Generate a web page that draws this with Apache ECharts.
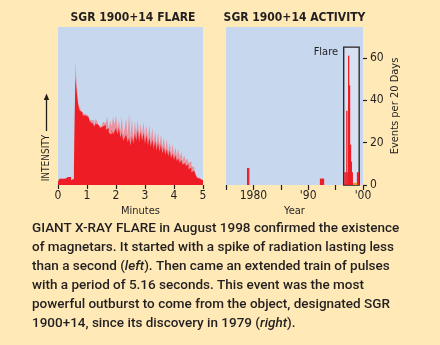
<!DOCTYPE html>
<html>
<head>
<meta charset="utf-8">
<script src="https://cdn.jsdelivr.net/npm/echarts@6/dist/echarts.min.js"></script>
<style>
  html, body { margin: 0; padding: 0; background: #fee9b7; }
  #chart { width: 440px; height: 345px; }
</style>
</head>
<body>
<div id="chart"></div>
<script>
// ---------- DATA ----------
// Left panel: flare light curve, 100 bins of 0.05 min (3 s) from 0 to 5 minutes
const flareBinMinutes = 0.05;
const flareBase = [
  2, 4, 4, 3, 4, 3, 5, 4, 5, 3, 4, 12,
  68, 58, 50, 47, 46, 44, 44, 43, 43, 42, 40, 39, 40, 37, 39, 38, 37, 36,
  37, 37, 38, 35, 36, 33, 32, 35, 32, 34, 36, 32, 36, 30, 33, 28, 30, 32, 27, 30,
  25, 31, 26, 33, 28, 35, 27, 34, 28, 33, 26, 32, 25, 30, 24, 29, 23, 28, 22, 27,
  21, 26, 20, 24, 19, 23, 18, 22, 17, 20, 16, 19, 15, 17, 14, 16, 13, 14, 12, 13,
  10, 11, 8, 9, 8, 6, 4.5, 4, 3.5, 3
];
const flarePeak = [
  2, 4, 4, 3, 4, 3, 5, 4, 5, 3, 4, 12,
  78, 62, 52, 49, 47, 45, 45, 46, 44, 42, 41, 40, 41, 38, 42, 40, 38, 37,
  38, 40, 39, 39, 43, 35, 41, 37, 43, 38, 44, 36, 41, 34, 43, 32, 36, 42, 31, 45,
  30, 42, 29, 40, 33, 41, 31, 39, 32, 40, 30, 38, 29, 38, 28, 36, 27, 34, 26, 33,
  25, 32, 24, 30, 22, 29, 21, 27, 20, 26, 19, 24, 18, 23, 17, 21, 15, 19, 15, 17,
  14, 15, 12, 11, 9, 7, 5, 4.5, 3.5, 3
];
const flareTickLabels = ['0', '1', '2', '3', '4', '5'];

// Right panel: activity history (events per 20 days)
const activityYears  = [1978.95, 1979.15, 1992.25, 1992.43, 1992.61, 1992.79,
                        1996.7, 1996.88, 1997.05, 1997.22, 1997.38, 1997.55, 1997.72, 1997.88, 1998.05,
                        1999.0, 1999.17];
const activityCounts = [8, 8, 3, 3, 3, 3,
                        6, 6, 35, 6, 61, 47, 19, 11, 6,
                        6, 6];
const otherYears  = [1998.3, 1998.47, 1998.64, 1998.81];
const otherCounts = [1, 1, 1, 1];
const flareWindowYears = [1996.48, 1999.3];
const flareWindowTop = [65];
const activityTickYears  = [1980, 1990, 2000];
const activityTickLabels = ['1980', "'90", "'00"];

const captionLines = [
  'GIANT X-RAY FLARE in August 1998 confirmed the existence',
  'of magnetars. It started with a spike of radiation lasting less',
  'than a second ({i|left}). Then came an extended train of pulses',
  'with a period of 5.16 seconds. This event was the most',
  'powerful outburst to come from the object, designated SGR',
  '1900+14, since its discovery in 1979 ({i|right}).'
];

// ---------- STYLE ----------
const FONT = "'DejaVu Sans Condensed', 'DejaVu Sans', sans-serif";
const CAPFONT = "Roboto, 'DejaVu Sans Condensed', sans-serif";
const DARK = '#231f20';
const RED = '#ee1d25';
const PINK = '#e6939f';
const PLOT_BG = '#c7d7ee';

function stepData(values) {
  const pts = values.map((v, i) => [i * flareBinMinutes, v]);
  pts.push([values.length * flareBinMinutes, values[values.length - 1]]);
  return pts;
}

const chart = echarts.init(document.getElementById('chart'), null, { renderer: 'canvas' });

const captionGraphics = captionLines.map((line, k) => ({
  type: 'text',
  left: 32,
  top: 221.5 + k * 19,
  style: {
    text: line,
    fill: DARK,
    font: '500 13.5px ' + CAPFONT,
    rich: { i: { fontStyle: 'italic', fontWeight: 500, fontSize: 13.5, fontFamily: CAPFONT, fill: DARK } }
  }
}));

const option = {
  backgroundColor: '#fee9b7',
  animation: false,
  grid: [
    { left: 58, top: 27, width: 145, height: 158, show: true, backgroundColor: PLOT_BG, borderWidth: 0 },
    { left: 226, top: 27, width: 137, height: 158, show: true, backgroundColor: PLOT_BG, borderWidth: 0 }
  ],
  xAxis: [
    {
      gridIndex: 0, type: 'value', min: 0, max: 5, interval: 1,
      axisLine: { show: false },
      axisTick: { show: true, length: 4, lineStyle: { color: DARK, width: 1.2 } },
      axisLabel: { color: DARK, fontSize: 12, margin: 5, fontFamily: FONT,
                   formatter: v => flareTickLabels[Math.round(v)] },
      splitLine: { show: false },
      name: 'Minutes', nameLocation: 'middle', nameGap: 21,
      nameTextStyle: { color: DARK, fontSize: 11, fontFamily: FONT, padding: [0, 0, 0, 20] }
    },
    {
      gridIndex: 1, type: 'value', min: 1975, max: 2000, interval: 5,
      axisLine: { show: false },
      axisTick: { show: true, length: 5, lineStyle: { color: DARK, width: 1.2 } },
      axisLabel: { color: DARK, fontSize: 12, margin: 5, fontFamily: FONT,
                   formatter: v => { const k = activityTickYears.indexOf(Math.round(v)); return k >= 0 ? activityTickLabels[k] : ''; } },
      splitLine: { show: false },
      name: 'Year', nameLocation: 'middle', nameGap: 21,
      nameTextStyle: { color: DARK, fontSize: 11, fontFamily: FONT }
    }
  ],
  yAxis: [
    { gridIndex: 0, type: 'value', min: 0, max: 100, show: false, splitLine: { show: false } },
    {
      gridIndex: 1, type: 'value', min: 0, max: 74.5, interval: 20, position: 'right',
      axisLine: { show: false },
      axisTick: { show: true, length: 4, lineStyle: { color: DARK, width: 1.2 } },
      axisLabel: { color: DARK, fontSize: 12, margin: 7, fontFamily: FONT, showMaxLabel: false },
      splitLine: { show: false },
      name: 'Events per 20 Days', nameLocation: 'middle', nameGap: 27, nameRotate: 90,
      nameTextStyle: { color: DARK, fontSize: 11, fontFamily: FONT }
    }
  ],
  series: [
    {
      type: 'line', xAxisIndex: 0, yAxisIndex: 0, step: 'end', symbol: 'none',
      lineStyle: { width: 0 }, areaStyle: { color: PINK, opacity: 1 },
      data: stepData(flarePeak), z: 2
    },
    {
      type: 'line', xAxisIndex: 0, yAxisIndex: 0, step: 'end', symbol: 'none',
      lineStyle: { width: 0 }, areaStyle: { color: RED, opacity: 1 },
      data: stepData(flareBase), z: 3
    },
    {
      type: 'bar', xAxisIndex: 1, yAxisIndex: 1, barWidth: 1.3, barGap: '-100%',
      itemStyle: { color: RED },
      data: activityYears.map((y, i) => [y, activityCounts[i]]),
      markArea: {
        silent: true,
        itemStyle: { color: '#d7e1f2', borderColor: DARK, borderWidth: 1.3 },
        label: { show: true, position: [-5, 6], align: 'right', verticalAlign: 'middle',
                 color: DARK, fontSize: 11, fontFamily: FONT },
        data: [[
          { name: 'Flare', xAxis: flareWindowYears[0], yAxis: 0 },
          { xAxis: flareWindowYears[1], yAxis: flareWindowTop[0] }
        ]]
      },
      z: 3
    },
    {
      type: 'bar', xAxisIndex: 1, yAxisIndex: 1, barWidth: 1.3, barGap: '-100%',
      itemStyle: { color: '#f7941d' },
      data: otherYears.map((y, i) => [y, otherCounts[i]]),
      z: 3
    }
  ],
  graphic: [
    { type: 'text', x: 133, y: 18, style: { text: 'SGR 1900+14 FLARE', fill: DARK, font: 'bold 12px ' + FONT, textAlign: 'center', textVerticalAlign: 'middle' } },
    { type: 'text', x: 294.5, y: 18, style: { text: 'SGR 1900+14 ACTIVITY', fill: DARK, font: 'bold 12px ' + FONT, textAlign: 'center', textVerticalAlign: 'middle' } },
    { type: 'line', shape: { x1: 46.5, y1: 99, x2: 46.5, y2: 131 }, style: { stroke: DARK, lineWidth: 1.3 } },
    { type: 'polygon', shape: { points: [[46.5, 93.5], [43.8, 100], [49.2, 100]] }, style: { fill: DARK } },
    { type: 'text', x: 46.5, y: 158, rotation: Math.PI / 2, style: { text: 'INTENSITY', fill: DARK, font: '10px ' + FONT, textAlign: 'center', textVerticalAlign: 'middle' } }
  ].concat(captionGraphics)
};

chart.setOption(option);
</script>
</body>
</html>
